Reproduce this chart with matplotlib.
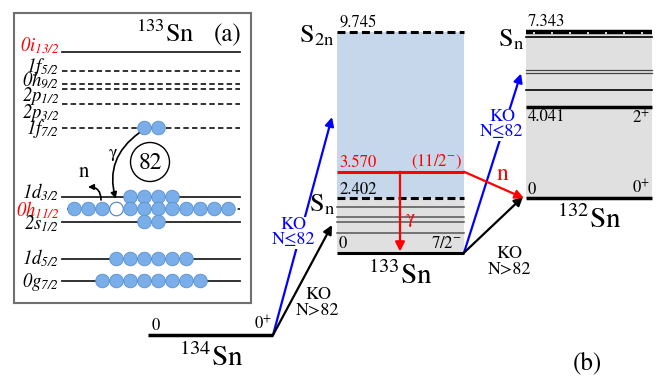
import matplotlib
matplotlib.use('Agg')
import matplotlib.pyplot as plt
from matplotlib.patches import Circle, FancyArrowPatch

plt.rcParams['font.family'] = 'STIXGeneral'
plt.rcParams['mathtext.fontset'] = 'stix'
# all-italic "custom" math font, used only for the orbital labels of panel (a)
plt.rcParams['mathtext.rm'] = 'STIXGeneral:italic'
plt.rcParams['mathtext.it'] = 'STIXGeneral:italic'
plt.rcParams['mathtext.bf'] = 'STIXGeneral:italic'

# ---------------- data (MeV) ----------------
# energies relative to the 133Sn ground state
sn_134 = 3.63            # 134Sn ground lies S_n(134Sn) below 133Sn g.s.
e133_levels = [0.854, 1.363, 1.561, 2.004]
e133_sn = 2.402
e133_s2n = 9.745
e133_isomer = 3.570
# 132Sn levels, relative to its own ground state
e132_levels = [4.76, 5.52, 5.66, 7.09]
e132_2plus = 4.041
e132_sn = 7.343

# panel (a): single-particle orbitals (heights are schematic)
orbitals = ['0i_{13/2}', '1f_{5/2}', '0h_{9/2}', '2p_{1/2}', '2p_{3/2}', '1f_{7/2}',
            '1d_{3/2}', '0h_{11/2}', '2s_{1/2}', '1d_{5/2}', '0g_{7/2}']
orbital_h = [52, 71, 84, 89, 104, 128, 197, 209, 222, 259, 281]
orbital_ls = ['solid', 'dashed', 'dashed', 'dashed', 'dashed', 'dashed',
              'solid', 'dotted', 'solid', 'solid', 'solid']
orbital_col = ['red', 'k', 'k', 'k', 'k', 'k', 'k', 'red', 'k', 'k', 'k']
label_h = [46, 67, 81, 96, 113, 129, 192, 210, 224, 258, 282]
n_slots = [0, 0, 0, 0, 0, 2, 4, 12, 2, 6, 8]
holes = {'0h_{11/2}': 3}

# ---------------- figure ----------------
fig = plt.figure(figsize=(6.62, 3.79), dpi=100)
ax = fig.add_axes([0, 0, 1, 1])
pxmev = 22.68
ax.set_xlim(0, 662)
ax.set_ylim(-(379 - 252.7) / pxmev, 252.7 / pxmev)
ax.axis('off')

x134 = (148, 273)
x133 = (337, 464)
x132 = (526, 652)
off132 = e133_sn

blue_fill = '#c6d7eb'
gray_fill = '#e0e0e0'

# 134Sn
ax.plot(x134, [-sn_134] * 2, color='k', lw=2.5, solid_capstyle='butt')
ax.annotate('0', (x134[0] + 4, -sn_134), xytext=(0, 1), textcoords='offset points',
            ha='left', va='bottom', fontsize=12)
ax.annotate('0$^{+}$', (x134[1] - 1, -sn_134), xytext=(0, 1), textcoords='offset points',
            ha='right', va='bottom', fontsize=12)
ax.text(211, -4.65, '$^{134}$Sn', ha='center', va='center', fontsize=21)

# 133Sn
ax.fill_between(x133, 0, e133_sn, color=gray_fill, lw=0)
ax.fill_between(x133, e133_sn, e133_s2n, color=blue_fill, lw=0)
for e in e133_levels:
    ax.plot(x133, [e, e], color='#555555', lw=1.1)
ax.plot(x133, [0, 0], color='k', lw=2.2, solid_capstyle='butt')
for e in (e133_sn, e133_s2n):
    ax.plot(x133, [e, e], color='k', lw=2.2, linestyle=(0, (2.6, 1.4)))
ax.plot(x133, [e133_isomer] * 2, color='red', lw=2.2, solid_capstyle='butt')
for e, txt, col in [(e133_s2n, '9.745', 'k'), (e133_isomer, '3.570', 'red'),
                    (e133_sn, '2.402', 'k'), (0, '0', 'k')]:
    ax.annotate(txt, (x133[0] + 2, e), xytext=(0, 0.5), textcoords='offset points',
                ha='left', va='bottom', fontsize=12, color=col)
ax.annotate('(11/2$^{-}$)', (x133[1] - 2, e133_isomer), xytext=(0, 0.5),
            textcoords='offset points', ha='right', va='bottom', fontsize=12, color='red')
ax.annotate('7/2$^{-}$', (x133[1] - 2, 0), xytext=(0, 0.5),
            textcoords='offset points', ha='right', va='bottom', fontsize=12)
ax.text(334, 9.55, r'S$_{\mathregular{2n}}$', ha='right', va='center', fontsize=19)
ax.text(335, 2.1, r'S$_{\mathregular{n}}$', ha='right', va='center', fontsize=19)
ax.annotate('', xy=(400, 0.05), xytext=(400, e133_isomer),
            arrowprops=dict(arrowstyle='-|>', color='red', lw=1.6,
                            mutation_scale=14, shrinkA=0, shrinkB=0))
ax.text(410, 1.52, 'γ', color='red', ha='center', va='center', fontsize=14)
ax.text(400, -1.02, '$^{133}$Sn', ha='center', va='center', fontsize=21)

# 132Sn
ax.fill_between(x132, off132, off132 + e132_sn, color=gray_fill, lw=0)
for e in e132_levels:
    dbl = 5.4 < e < 5.8
    ax.plot(x132, [off132 + e] * 2, color='#444444' if dbl else 'k',
            lw=0.9 if dbl else 1.2)
ax.plot(x132, [off132] * 2, color='k', lw=2.5, solid_capstyle='butt')
ax.plot(x132, [off132 + e132_2plus] * 2, color='k', lw=2.5, solid_capstyle='butt')
ax.plot(x132, [off132 + e132_sn] * 2, color='k', lw=3.2, solid_capstyle='butt')
ax.plot((x132[0] + 7, x132[1]), [off132 + e132_sn - 0.04] * 2, color='white',
        lw=1.2, linestyle=(0, (1.2, 9.6)))
ax.annotate('7.343', (x132[0] + 2, off132 + e132_sn), xytext=(0, 1),
            textcoords='offset points', ha='left', va='bottom', fontsize=12)
ax.annotate('4.041', (x132[0] + 2, off132 + e132_2plus), xytext=(0, -2),
            textcoords='offset points', ha='left', va='top', fontsize=12)
ax.annotate('2$^{+}$', (x132[1] - 2, off132 + e132_2plus), xytext=(0, -2),
            textcoords='offset points', ha='right', va='top', fontsize=12)
ax.annotate('0', (x132[0] + 2, off132), xytext=(0, 0.5),
            textcoords='offset points', ha='left', va='bottom', fontsize=12)
ax.annotate('0$^{+}$', (x132[1] - 2, off132), xytext=(0, 0.5),
            textcoords='offset points', ha='right', va='bottom', fontsize=12)
ax.text(524, off132 + e132_sn - 0.35, r'S$_{\mathregular{n}}$', ha='right',
        va='center', fontsize=19)
ax.text(589, 1.45, '$^{132}$Sn', ha='center', va='center', fontsize=21)

# transitions
arrow_kw = dict(arrowstyle='-|>', lw=1.6, mutation_scale=13, shrinkA=0, shrinkB=0)
ax.annotate('', xy=(332, 5.98), xytext=(x134[1], -sn_134),
            arrowprops=dict(color='blue', **arrow_kw), zorder=1)
ax.annotate('', xy=(332, 1.22), xytext=(x134[1], -sn_134),
            arrowprops=dict(color='k', **arrow_kw), zorder=1)
ax.annotate('', xy=(521, off132 + 5.5), xytext=(x133[1], 0),
            arrowprops=dict(color='blue', **arrow_kw), zorder=1)
ax.annotate('', xy=(523, off132 + 0.06), xytext=(x133[1], 0),
            arrowprops=dict(color='k', **arrow_kw), zorder=1)
ax.annotate('', xy=(524, off132), xytext=(x133[1], e133_isomer),
            arrowprops=dict(color='red', **arrow_kw), zorder=2)
ax.text(503, 3.45, 'n', color='red', ha='center', va='center', fontsize=17)

wb = dict(facecolor='white', edgecolor='none', pad=0.3)
ax.text(293, 0.88, 'KO\nN≤82', color='blue', ha='center', va='center', fontsize=13,
        linespacing=0.95, bbox=wb, zorder=3)
ax.text(502, 5.64, 'KO\nN≤82', color='blue', ha='center', va='center', fontsize=13,
        linespacing=0.95, bbox=wb, zorder=3)
ax.text(318, -2.2, 'KO\nN>82', ha='center', va='center', fontsize=13, linespacing=0.95)
ax.text(509, -0.39, 'KO\nN>82', ha='center', va='center', fontsize=13, linespacing=0.95)
ax.text(587, -4.87, '(b)', ha='center', va='center', fontsize=18)

# ---------------- panel (a) ----------------
axa = fig.add_axes([14 / 662, (379 - 303) / 379, 237 / 662, 290 / 379], zorder=5)
axa.set_xlim(14, 251)
axa.set_ylim(303, 13)
axa.set_xticks([])
axa.set_yticks([])
for s in axa.spines.values():
    s.set_color('#707070')
    s.set_linewidth(1.5)

styles = {'solid': 'solid', 'dashed': (0, (3.0, 1.8)), 'dotted': (0, (2.0, 2.5))}
for name, h, ls, col, lh in zip(orbitals, orbital_h, orbital_ls, orbital_col, label_h):
    x0 = 67 if ls == 'dotted' else 62
    axa.plot((x0, 240), (h, h), color='#222222', lw=1.3, linestyle=styles[ls])
    axa.text(59, lh, '$' + name + '$', ha='right', va='center',
             fontsize=13.5, color=col, math_fontfamily='custom')

xc, dx, r = 151.5, 14.0, 6.8
for name, h, n in zip(orbitals, orbital_h, n_slots):
    for i in range(n):
        x = xc + (i - (n - 1) / 2) * dx
        if holes.get(name) == i:
            axa.add_patch(Circle((x, h), r, facecolor='white', edgecolor='#4a7fc0',
                                 lw=0.8, zorder=4))
        else:
            axa.add_patch(Circle((x, h), r, facecolor='#7aaee8', edgecolor='#5a90d0',
                                 lw=0.6, zorder=4))

axa.add_patch(Circle((150, 162), 19.5, facecolor='none', edgecolor='k', lw=1.0))
axa.text(150, 163, '82', ha='center', va='center', fontsize=17)
axa.text(165, 35, '$^{133}$Sn', ha='center', va='center', fontsize=19)
axa.text(228, 35, '(a)', ha='center', va='center', fontsize=18)

axa.add_patch(FancyArrowPatch((139, 133), (116, 200), connectionstyle='arc3,rad=0.35',
                              arrowstyle='-|>', mutation_scale=9, color='k', lw=1.2,
                              shrinkA=0, shrinkB=1, zorder=6))
axa.text(113, 153, 'γ', ha='center', va='center', fontsize=13)
axa.add_patch(FancyArrowPatch((101, 200), (88, 187), connectionstyle='arc3,rad=0.5',
                              arrowstyle='-|>', mutation_scale=8, color='k', lw=1.2,
                              shrinkA=0, shrinkB=0, zorder=6))
axa.text(84, 172, 'n', ha='center', va='center', fontsize=15)

fig.savefig('out.png', dpi=100)
